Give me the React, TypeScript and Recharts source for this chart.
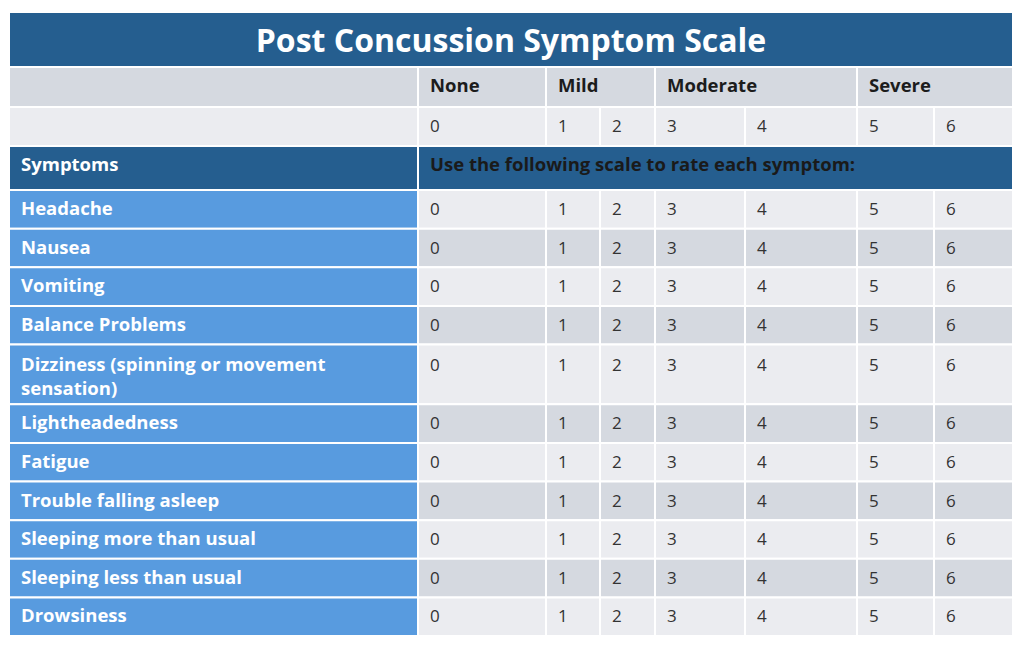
import { ComposedChart, XAxis, YAxis, ReferenceArea } from "recharts";

// ---- table content ----
const title = "Post Concussion Symptom Scale";
const severityGroups = ["None", "Mild", "Moderate", "Severe"];
const groupScores = [[0], [1, 2], [3, 4], [5, 6]];
const scores = [0, 1, 2, 3, 4, 5, 6];
const headingLabel = "Symptoms";
const instruction = "Use the following scale to rate each symptom:";
const symptoms = [
  "Headache",
  "Nausea",
  "Vomiting",
  "Balance Problems",
  "Dizziness (spinning or movement\nsensation)",
  "Lightheadedness",
  "Fatigue",
  "Trouble falling asleep",
  "Sleeping more than usual",
  "Sleeping less than usual",
  "Drowsiness",
];

// ---- layout ----
const COL_WIDTHS = [409, 128, 54, 55, 90, 112, 77, 79];
const TITLE_H = 55;
const GROUP_H = 40;
const SCORE_H = 39;
const HEADING_H = 44;
const BODY_ROW_H = 38.6;
const EXTRA_LINE_H = 21;
const LINE_GAP = 24;

const DARK_BLUE = "#255E8F";
const LABEL_BLUE = "#589BDF";
const GRAY_DARK = "#D5D9E0";
const GRAY_LIGHT = "#EBECF0";
const FONT = "'Open Sans', Lato, sans-serif";
const BOLD_SIZE = 18.5;
const NUM_SIZE = 17;

const colEdges = COL_WIDTHS.reduce((acc, w) => [...acc, acc[acc.length - 1] + w], [0]);
const tableWidth = colEdges[colEdges.length - 1];

type CellDef = {
  key: string;
  x1: number;
  x2: number;
  y1: number;
  y2: number;
  fill: string;
  text?: string;
  color?: string;
  weight?: number;
  size?: number;
  baseline?: number;
  center?: boolean;
};

function buildCells() {
  const cells: CellDef[] = [];
  let y = 0;

  cells.push({
    key: "title",
    x1: 0,
    x2: tableWidth,
    y1: y,
    y2: y + TITLE_H,
    fill: DARK_BLUE,
    text: title,
    color: "#fff",
    weight: 700,
    size: 32,
    baseline: 40,
    center: true,
  });
  y += TITLE_H;

  cells.push({ key: "g-blank", x1: 0, x2: colEdges[1], y1: y, y2: y + GROUP_H, fill: GRAY_DARK });
  severityGroups.forEach((g, i) => {
    const s = groupScores[i];
    cells.push({
      key: "g-" + g,
      x1: colEdges[s[0] + 1],
      x2: colEdges[s[s.length - 1] + 2],
      y1: y,
      y2: y + GROUP_H,
      fill: GRAY_DARK,
      text: g,
      color: "#1c1c1c",
      weight: 700,
      size: BOLD_SIZE,
      baseline: 25,
    });
  });
  y += GROUP_H;

  cells.push({ key: "s-blank", x1: 0, x2: colEdges[1], y1: y, y2: y + SCORE_H, fill: GRAY_LIGHT });
  scores.forEach((s) => {
    cells.push({
      key: "s-" + s,
      x1: colEdges[s + 1],
      x2: colEdges[s + 2],
      y1: y,
      y2: y + SCORE_H,
      fill: GRAY_LIGHT,
      text: String(s),
      color: "#333",
      size: NUM_SIZE,
      baseline: 25,
    });
  });
  y += SCORE_H;

  cells.push({
    key: "h-label",
    x1: 0,
    x2: colEdges[1],
    y1: y,
    y2: y + HEADING_H,
    fill: DARK_BLUE,
    text: headingLabel,
    color: "#fff",
    weight: 700,
    size: BOLD_SIZE,
    baseline: 25,
  });
  cells.push({
    key: "h-instr",
    x1: colEdges[1],
    x2: tableWidth,
    y1: y,
    y2: y + HEADING_H,
    fill: DARK_BLUE,
    text: instruction,
    color: "#1a1a1a",
    weight: 700,
    size: BOLD_SIZE,
    baseline: 25,
  });
  y += HEADING_H;

  symptoms.forEach((name, r) => {
    const lines = name.split("\n").length;
    const h = BODY_ROW_H + (lines - 1) * EXTRA_LINE_H;
    const base = lines > 1 ? 26 : 25;
    const bg = r % 2 === 0 ? GRAY_LIGHT : GRAY_DARK;
    cells.push({
      key: "b-" + r,
      x1: 0,
      x2: colEdges[1],
      y1: y,
      y2: y + h,
      fill: LABEL_BLUE,
      text: name,
      color: "#fff",
      weight: 700,
      size: BOLD_SIZE,
      baseline: base,
    });
    scores.forEach((s) => {
      cells.push({
        key: "b-" + r + "-" + s,
        x1: colEdges[s + 1],
        x2: colEdges[s + 2],
        y1: y,
        y2: y + h,
        fill: bg,
        text: String(s),
        color: "#333",
        size: NUM_SIZE,
        baseline: base,
      });
    });
    y += h;
  });

  return { cells, tableHeight: y };
}

const { cells, tableHeight } = buildCells();

function CellText({ viewBox, cell }: { viewBox: any; cell: CellDef }) {
  if (!cell.text || !viewBox) return null;
  const { x, y, width } = viewBox;
  const tx = cell.center ? x + width / 2 : x + 12;
  const lines = cell.text.split("\n");
  return (
    <text
      x={tx}
      y={y + (cell.baseline ?? 25)}
      textAnchor={cell.center ? "middle" : "start"}
      fill={cell.color}
      fontFamily={FONT}
      fontSize={cell.size}
      fontWeight={cell.weight ?? 400}
    >
      {lines.map((l, i) => (
        <tspan key={i} x={tx} dy={i === 0 ? 0 : LINE_GAP}>
          {l}
        </tspan>
      ))}
    </text>
  );
}

export default function App() {
  return (
    <ComposedChart
      width={1010}
      height={632}
      data={[]}
      margin={{ top: 4, left: 1, right: 5, bottom: 4 }}
    >
      <XAxis type="number" dataKey="x" domain={[0, tableWidth]} allowDataOverflow hide />
      <YAxis type="number" dataKey="y" domain={[0, tableHeight]} allowDataOverflow reversed hide />
      {cells.map((c) => (
        <ReferenceArea
          key={c.key}
          x1={c.x1}
          x2={c.x2}
          y1={c.y1}
          y2={c.y2}
          fill={c.fill}
          fillOpacity={1}
          stroke="#ffffff"
          strokeWidth={2}
          strokeOpacity={1}
          ifOverflow="visible"
          label={(p: any) => <CellText viewBox={p.viewBox} cell={c} />}
        />
      ))}
    </ComposedChart>
  );
}
